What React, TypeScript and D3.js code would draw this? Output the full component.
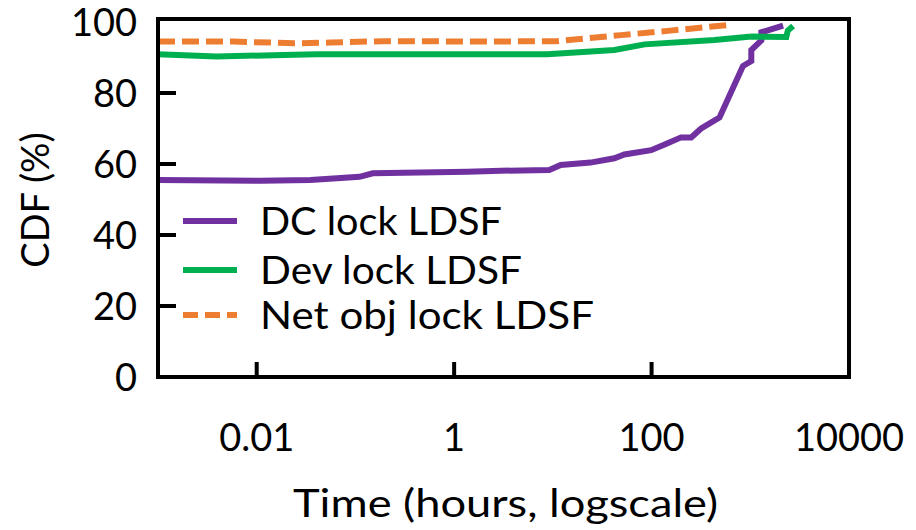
import React from "react";
import * as d3 from "d3";

// CDF of lock durations (time in hours, cdf in %)
const dcTime = [0.001, 0.011, 0.035, 0.11, 0.15, 1.36, 3.0, 9.2, 12, 24, 42, 53, 99, 134, 199, 252, 318, 488, 843, 1024, 1024, 1294, 1294, 2150];
const dcCdf = [55.5, 55.3, 55.5, 56.4, 57.4, 57.8, 58.1, 58.3, 59.7, 60.4, 61.6, 62.7, 63.9, 65.4, 67.5, 67.5, 70.0, 73.1, 87.6, 89.0, 92.1, 94.8, 97.1, 99.0];

const devTime = [0.001, 0.0039, 0.0186, 0.041, 8.8, 42, 85, 434, 1024, 2317, 2400, 2716];
const devCdf = [90.9, 90.3, 90.7, 90.9, 90.9, 92.1, 93.7, 94.9, 95.9, 95.8, 97.6, 98.9];

const netTime = [0.001, 0.0058, 0.024, 0.056, 0.19, 2.0, 11, 49, 146, 616];
const netCdf = [94.5, 94.5, 94.0, 94.2, 94.6, 94.5, 94.6, 96.3, 97.5, 99.2];

const seriesNames = ["DC lock LDSF", "Dev lock LDSF", "Net obj lock LDSF"];
const seriesColors = ["#7030a0", "#00b050", "#ed7d31"];

const xTicks = [0.01, 1, 100, 10000];
const xTickLabels = ["0.01", "1", "100", "10000"];
const yTicks = [0, 20, 40, 60, 80, 100];

const W = 916, H = 530;
const left = 158, right = 849, top = 22, bottom = 377;
const FONT = "Lato, 'Open Sans', sans-serif";

export default function App() {
  const x = d3.scaleLog().domain([0.001, 10000]).range([left, right]);
  const y = d3.scaleLinear().domain([0, 100]).range([bottom, top]);

  const line = d3.line<[number, number]>()
    .x(d => x(d[0]))
    .y(d => y(d[1]));

  const series = [
    { name: seriesNames[0], color: seriesColors[0], dash: null, pts: dcTime.map((t, i) => [t, dcCdf[i]] as [number, number]) },
    { name: seriesNames[1], color: seriesColors[1], dash: null, pts: devTime.map((t, i) => [t, devCdf[i]] as [number, number]) },
    { name: seriesNames[2], color: seriesColors[2], dash: "17 7", pts: netTime.map((t, i) => [t, netCdf[i]] as [number, number]) },
  ];

  // legend layout (text widths stretched to the reference's wider face)
  const legendY = [221, 270, 315];
  const legendW = [242, 262, 334];

  return (
    <svg width={W} height={H} style={{ position: "absolute", left: 0, top: 0, background: "#fff" }}
      fontFamily={FONT}>
      <defs>
        <clipPath id="plot">
          <rect x={left} y={top - 6} width={right - left} height={bottom - top + 6} />
        </clipPath>
      </defs>

      {/* series lines */}
      <g clipPath="url(#plot)">
        {series.map(s => (
          <path key={s.name} d={line(s.pts) ?? ""} fill="none" stroke={s.color}
            strokeWidth={6} strokeDasharray={s.dash ?? undefined} strokeLinejoin="miter" />
        ))}
      </g>

      {/* frame */}
      <rect x={left} y={top - 3} width={right - left} height={bottom - top + 3}
        fill="none" stroke="#000" strokeWidth={4} />

      {/* y ticks */}
      {yTicks.map(t => (
        <g key={t}>
          {t > 0 && t < 100 && <line x1={left} x2={left + 18} y1={y(t)} y2={y(t)} stroke="#000" strokeWidth={4} />}
          <text x={137} y={y(t)} dy="0.36em" textAnchor="end" fontSize={38}>{t}</text>
        </g>
      ))}

      {/* x ticks */}
      {xTicks.map((t, i) => (
        <g key={t}>
          {t < 10000 && <line x1={x(t)} x2={x(t)} y1={bottom} y2={bottom - 15} stroke="#000" strokeWidth={4} />}
          <text x={x(t)} y={451} textAnchor="middle" fontSize={38}>{xTickLabels[i]}</text>
        </g>
      ))}

      {/* axis titles */}
      <text x={293} y={517} fontSize={38} textLength={425} lengthAdjust="spacingAndGlyphs">Time (hours, logscale)</text>
      <text transform={`translate(49,200) rotate(-90)`} textAnchor="middle" fontSize={38}>CDF (%)</text>

      {/* legend */}
      {series.map((s, i) => (
        <g key={s.name}>
          <line x1={183} x2={237} y1={legendY[i]} y2={legendY[i]} stroke={s.color} strokeWidth={6}
            strokeDasharray={s.dash ? "15 7" : undefined} />
          <text x={260} y={legendY[i]} dy="0.36em" fontSize={38}
            textLength={legendW[i]} lengthAdjust="spacingAndGlyphs">{s.name}</text>
        </g>
      ))}
    </svg>
  );
}
